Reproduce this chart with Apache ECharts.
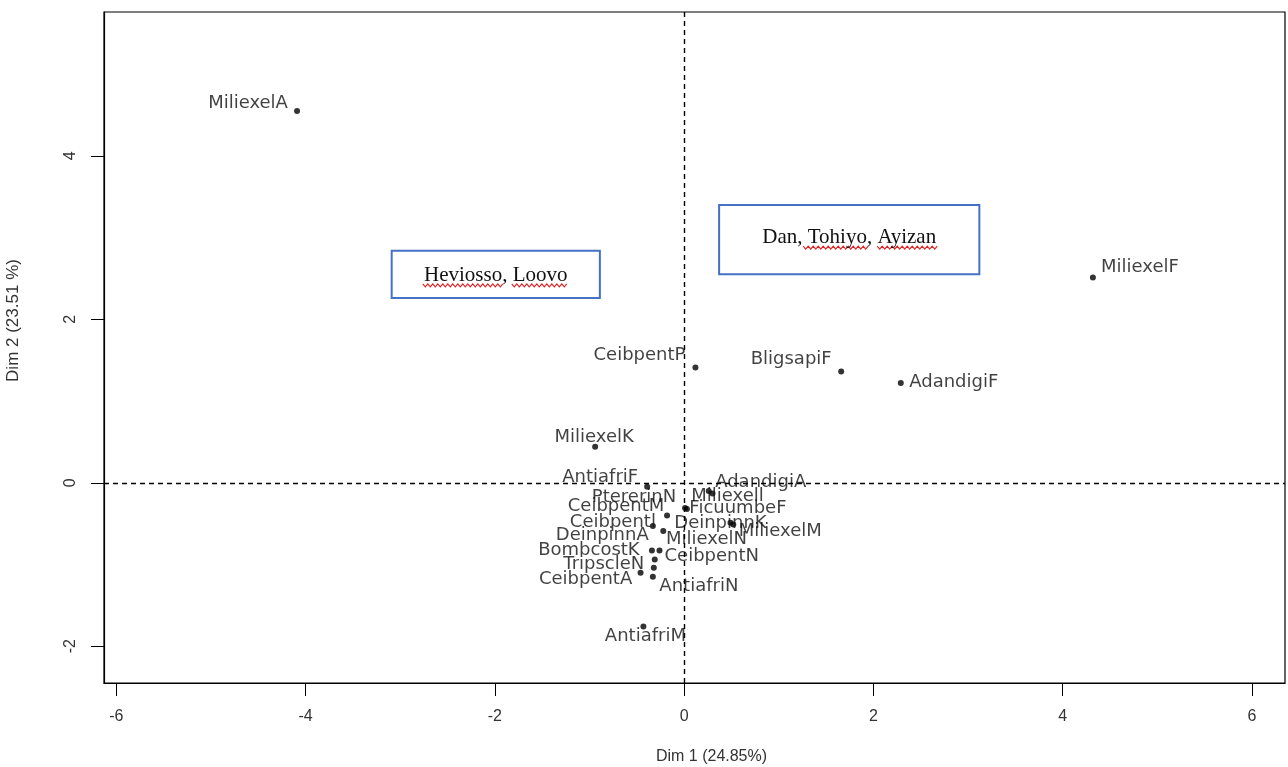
<!DOCTYPE html>
<html>
<head>
<meta charset="utf-8">
<script src="https://cdn.jsdelivr.net/npm/echarts@6/dist/echarts.min.js"></script>
<style>
  html, body { margin: 0; padding: 0; background: #fff; }
  #main { width: 1288px; height: 767px; }
</style>
</head>
<body>
<div id="main"></div>
<script>
// modalites (MCA) - coordonnees
const names = [
  "MiliexelA", "MiliexelF", "CeibpentP", "BligsapiF", "AdandigiF", "MiliexelK",
  "AntiafriF", "AdandigiA", "Miliexell", "PtererinN", "FicuumbeF", "CeibpentM",
  "Ceibpentl", "DeinpinnK", "MiliexelM", "DeinpinnA", "MiliexelN", "BombcostK",
  "CeibpentN", "TripscleN", "CeibpentA", "AntiafriN", "AntiafriM"
];
const dim1 = [
  -4.09, 4.32, 0.12, 1.66, 2.29, -0.94,
  -0.39, 0.26, 0.30, 0.01, 0.03, -0.18,
  -0.33, 0.49, 0.52, -0.22, -0.26, -0.34,
  -0.31, -0.32, -0.46, -0.33, -0.43
];
const dim2 = [
  4.55, 2.51, 1.41, 1.36, 1.22, 0.44,
  -0.05, -0.10, -0.13, -0.31, -0.32, -0.40,
  -0.53, -0.49, -0.51, -0.59, -0.83, -0.83,
  -0.94, -1.04, -1.10, -1.15, -1.76
];
const tickValues = [-6, -4, -2, 0, 2, 4, 6];
const yTickValues = [-2, 0, 2, 4];

// cadres d'annotation (coordonnees dans le plan factoriel)
const boxes = [
  { text: "Heviosso, Loovo", x: [-3.09, -0.89], y: [2.26, 2.84] },
  { text: "Dan, Tohiyo, Ayizan", x: [0.37, 3.12], y: [2.55, 3.40] }
];

// decalage des etiquettes par rapport au point (px)
const labelShift = {
  MiliexelA: [-49, -8], MiliexelF: [47, -10], CeibpentP: [-56, -12],
  BligsapiF: [-50, -12], AdandigiF: [53, -1], MiliexelK: [-1, -9],
  AntiafriF: [-47, -10], AdandigiA: [52, -9], Miliexell: [15, 3],
  PtererinN: [-51, -11], FicuumbeF: [51, -1], CeibpentM: [-51, -9],
  Ceibpentl: [-40, -4], DeinpinnK: [-10, 1], MiliexelM: [47, 7],
  DeinpinnA: [-61, 4], MiliexelN: [47, -11], BombcostK: [-63, 0],
  CeibpentN: [57, -3], TripscleN: [-50, -3], CeibpentA: [-55, 7],
  AntiafriN: [46, 10], AntiafriM: [2, 10]
};
// soulignement ondule (correcteur) sous le texte des cadres : [debut, fin] en px depuis le centre
const boxLabelDy = [1, -2];
const squiggles = [
  [[-73, 8], [16, 73]],
  [[-46, 21], [28, 90]]
];

const symSize = 6;
const points = names.map((n, i) => {
  const s = labelShift[n];
  return {
    value: [dim1[i], dim2[i]],
    name: n,
    label: { position: [s[0] + symSize / 2, s[1] + symSize / 2] }
  };
});

const chart = echarts.init(document.getElementById("main"));
chart.setOption({
  animation: false,
  grid: {
    left: 104, right: 3, top: 12, bottom: 84,
    outerBoundsMode: "none",
    containLabel: false,
    show: true, borderColor: "#000", borderWidth: 1.2
  },
  xAxis: {
    type: "value",
    min: -6.13, max: 6.35,
    name: "Dim 1 (24.85%)",
    nameLocation: "middle",
    nameGap: 66,
    nameTextStyle: { color: "#333", fontSize: 16, fontFamily: "Liberation Sans", padding: [0, 0, 0, 34] },
    axisLine: { show: true, onZero: false, lineStyle: { color: "#000", width: 1.2 } },
    axisTick: { show: true, length: 13, customValues: tickValues, lineStyle: { color: "#000" } },
    axisLabel: { customValues: tickValues, margin: 26, color: "#333", fontSize: 16, fontFamily: "Liberation Sans" },
    splitLine: { show: false }
  },
  yAxis: {
    type: "value",
    min: -2.45, max: 5.76,
    name: "Dim 2 (23.51 %)",
    nameLocation: "middle",
    nameGap: 82,
    nameRotate: 90,
    nameTextStyle: { color: "#333", fontSize: 17, fontFamily: "Liberation Sans", padding: [0, 0, 0, 54] },
    axisLine: { show: true, onZero: false, lineStyle: { color: "#000", width: 1.2 } },
    axisTick: { show: true, length: 13, customValues: yTickValues, lineStyle: { color: "#000" } },
    axisLabel: { customValues: yTickValues, rotate: 90, margin: 25, color: "#333", fontSize: 16, fontFamily: "Liberation Sans" },
    splitLine: { show: false }
  },
  series: [
    {
      type: "scatter",
      symbol: "circle",
      symbolSize: symSize,
      itemStyle: { color: "#000" },
      label: {
        show: true,
        formatter: "{b}",
        align: "center",
        verticalAlign: "middle",
        color: "#111",
        fontSize: 18,
        fontFamily: "DejaVu Sans"
      },
      labelLayout: { hideOverlap: false },
      data: points,
      markLine: {
        silent: true,
        symbol: "none",
        label: { show: false },
        lineStyle: { color: "#000", type: [5, 4], width: 1.4 },
        data: [{ xAxis: 0 }, { yAxis: 0 }]
      },
      markArea: {
        silent: true,
        itemStyle: { color: "rgba(0,0,0,0)", borderColor: "#4472C4", borderWidth: 2 },
        label: {
          show: true,
          position: "inside",
          color: "#111",
          fontSize: 21,
          fontFamily: "Liberation Serif"
        },
        data: boxes.map((b, i) => [
          { name: b.text, xAxis: b.x[0], yAxis: b.y[1], label: { offset: [0, boxLabelDy[i]] } },
          { xAxis: b.x[1], yAxis: b.y[0] }
        ])
      }
    }
  ]
});

// soulignements rouges ondules sous les textes des cadres
const wavy = [];
boxes.forEach((b, i) => {
  const c = chart.convertToPixel({ gridIndex: 0 },
    [(b.x[0] + b.x[1]) / 2, (b.y[0] + b.y[1]) / 2]);
  const baseY = c[1] + boxLabelDy[i] + 10;
  squiggles[i].forEach(seg => {
    const pts = [];
    let k = 0;
    for (let x = c[0] + seg[0]; x <= c[0] + seg[1]; x += 2.5, k++) {
      pts.push([x, baseY + (k % 2 ? 1.5 : -1.5)]);
    }
    wavy.push({
      type: "polyline",
      silent: true,
      shape: { points: pts },
      style: { stroke: "#e02020", lineWidth: 1.1, fill: null }
    });
  });
});
chart.setOption({ graphic: wavy });
</script>
</body>
</html>
